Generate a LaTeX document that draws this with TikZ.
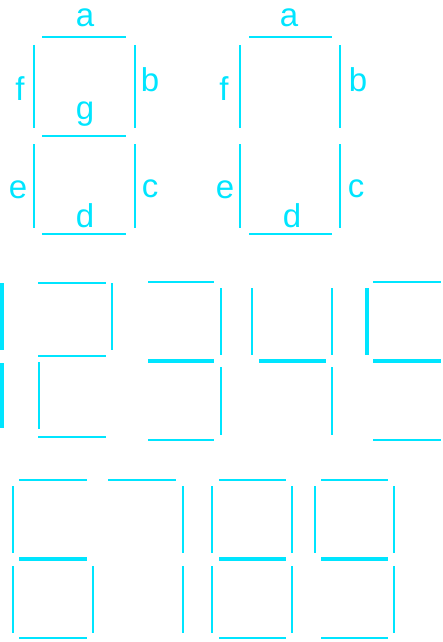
\documentclass[tikz,border=0pt]{standalone}
\usepackage{fontspec}
\setmainfont{Liberation Sans}
\definecolor{segcyan}{RGB}{0,229,255}
\tikzset{
  seg/.style={draw=segcyan, line width=2.2pt},
  thickseg/.style={draw=segcyan, line width=3.1pt},
  lbl/.style={text=segcyan, font=\fontsize{33}{33}\selectfont, anchor=base, inner sep=0pt}
}
\begin{document}
\begin{tikzpicture}[x=1pt,y=-1pt]
\useasboundingbox (0,0) rectangle (442,642);
% ---------- top-left labelled digit ----------
\draw[seg] (42,37) -- (126,37);
\draw[seg] (42,136) -- (126,136);
\draw[seg] (42,234) -- (126,234);
\draw[seg] (34,45) -- (34,128);
\draw[seg] (135,45) -- (135,128);
\draw[seg] (34,144) -- (34,228);
\draw[seg] (135,144) -- (135,228);
\node[lbl] (la) at (85,27) {a};
\node[lbl] (lf) at (20,100) {f};
\node[lbl] (lb) at (150,91) {b};
\node[lbl] (lg) at (85,119) {g};
\node[lbl] (le) at (18,198) {e};
\node[lbl] (lc) at (150,197) {c};
\node[lbl] (ld) at (85,227) {d};
% ---------- top-right labelled digit ----------
\draw[seg] (249,37) -- (332,37);
\draw[seg] (249,234) -- (332,234);
\draw[seg] (240,45) -- (240,128);
\draw[seg] (340,45) -- (340,128);
\draw[seg] (240,144) -- (240,228);
\draw[seg] (340,144) -- (340,228);
\node[lbl] (ra) at (289,27) {a};
\node[lbl] (rf) at (224,100) {f};
\node[lbl] (rb) at (358,91) {b};
\node[lbl] (re) at (225,198) {e};
\node[lbl] (rc) at (356,197) {c};
\node[lbl] (rd) at (292,227) {d};
% ---------- row 2: 1 2 3 4 5 ----------
% 1
\draw[thickseg] (2,283) -- (2,350);
\draw[thickseg] (2,363) -- (2,428);
% 2
\draw[seg] (38,283) -- (106,283);
\draw[seg] (112,283) -- (112,350);
\draw[seg] (38,356) -- (106,356);
\draw[seg] (39,362) -- (39,429);
\draw[seg] (38,437) -- (106,437);
% 3
\draw[seg] (148,282) -- (214,282);
\draw[seg] (221,288) -- (221,355);
\draw[thickseg] (148,361) -- (214,361);
\draw[seg] (221,367) -- (221,435);
\draw[seg] (148,440) -- (214,440);
% 4
\draw[seg] (252,288) -- (252,355);
\draw[thickseg] (259,361) -- (326,361);
\draw[seg] (332,288) -- (332,355);
\draw[seg] (332,367) -- (332,435);
% 5
\draw[seg] (373,282) -- (441,282);
\draw[thickseg] (367,288) -- (367,355);
\draw[thickseg] (373,361) -- (441,361);
\draw[seg] (373,440) -- (441,440);
% ---------- row 3: 6 7 8 9 ----------
% 6
\draw[seg] (19,480) -- (87,480);
\draw[seg] (13,486) -- (13,553);
\draw[thickseg] (19,559) -- (87,559);
\draw[seg] (13,566) -- (13,633);
\draw[seg] (93,566) -- (93,633);
\draw[seg] (19,638) -- (87,638);
% 7
\draw[seg] (108,480) -- (176,480);
\draw[seg] (183,486) -- (183,553);
\draw[seg] (183,566) -- (183,633);
% 8
\draw[seg] (219,480) -- (286,480);
\draw[seg] (212,486) -- (212,553);
\draw[seg] (292,486) -- (292,553);
\draw[thickseg] (219,559) -- (286,559);
\draw[seg] (212,566) -- (212,633);
\draw[seg] (292,566) -- (292,633);
\draw[seg] (219,638) -- (286,638);
% 9
\draw[seg] (321,480) -- (388,480);
\draw[seg] (315,486) -- (315,553);
\draw[seg] (394,486) -- (394,553);
\draw[thickseg] (321,559) -- (388,559);
\draw[seg] (394,566) -- (394,633);
\draw[seg] (321,638) -- (388,638);
\end{tikzpicture}
\end{document}
